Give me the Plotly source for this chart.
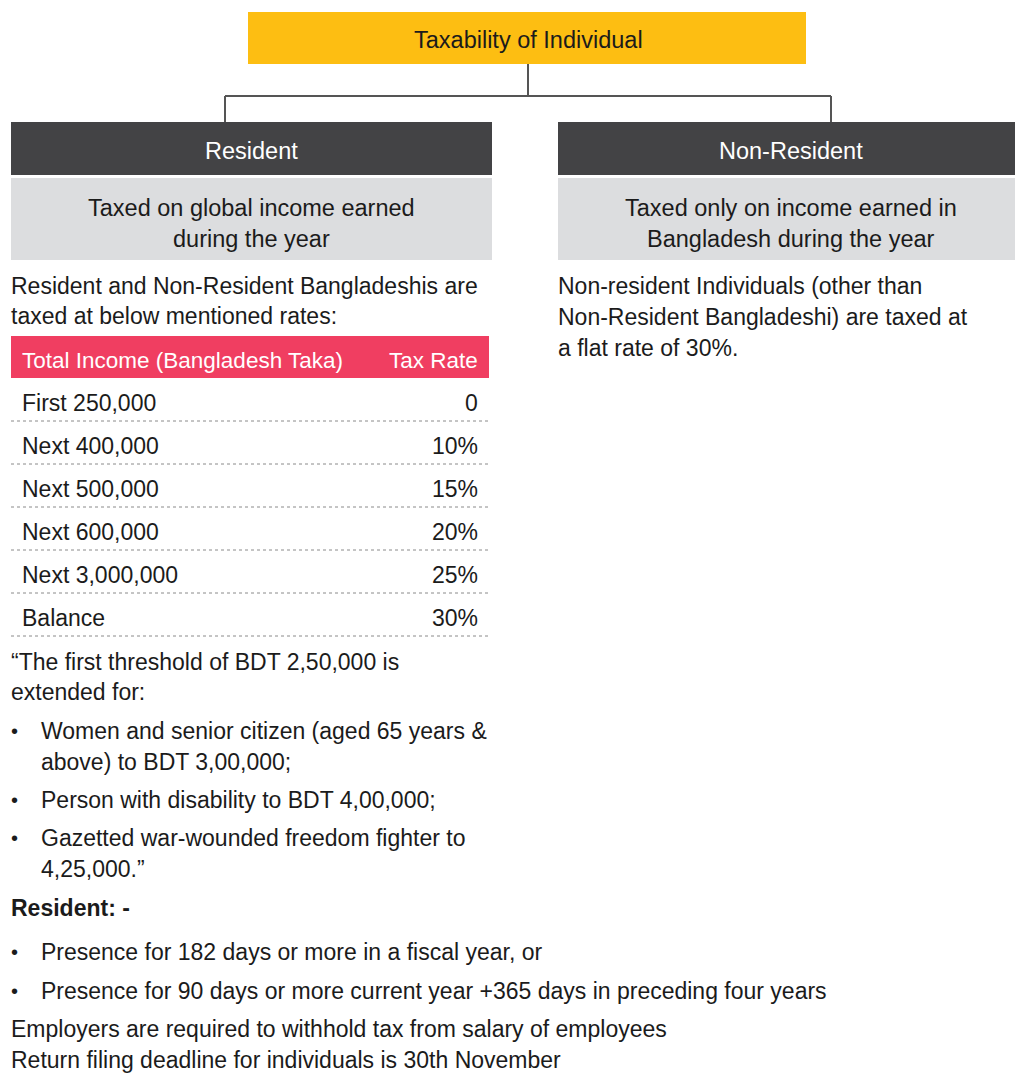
import plotly.graph_objects as go

# ---- content ----
title_text = "Taxability of Individual"
branch_names = ["Resident", "Non-Resident"]
branch_desc = [["Taxed on global income earned", "during the year"],
               ["Taxed only on income earned in", "Bangladesh during the year"]]
resident_intro = ["Resident and Non-Resident Bangladeshis are",
                  "taxed at below mentioned rates:"]
nonres_note = ["Non-resident Individuals (other than",
               "Non-Resident Bangladeshi) are taxed at",
               "a flat rate of 30%."]
table_header = ["Total Income (Bangladesh Taka)", "Tax Rate"]
income_bands = ["First 250,000", "Next 400,000", "Next 500,000",
                "Next 600,000", "Next 3,000,000", "Balance"]
tax_rates = ["0", "10%", "15%", "20%", "25%", "30%"]
threshold_note = ["\u201cThe first threshold of BDT 2,50,000 is", "extended for:"]
threshold_bullets = [["Women and senior citizen (aged 65 years &", "above) to BDT 3,00,000;"],
                     ["Person with disability to BDT 4,00,000;"],
                     ["Gazetted war-wounded freedom fighter to", "4,25,000.\u201d"]]
resident_rule_title = "Resident: -"
resident_rules = ["Presence for 182 days or more in a fiscal year, or",
                  "Presence for 90 days or more current year +365 days in preceding four years"]
footer_lines = ["Employers are required to withhold tax from salary of employees",
                "Return filing deadline for individuals is 30th November"]

W, H = 1023, 1084
OFF = 8  # page body margin
FONT = "Helvetica Neue, Liberation Sans, Arial, sans-serif"
TXT = "#1b1b1b"
FS = 23
BOX_FS = 23.5

fig = go.Figure()
shapes = []
ann = []


def text(x, y, s, anchor="left", color=TXT, size=FS, bold=False):
    if bold:
        s = "<b>" + s + "</b>"
    # annotations carry ~2px of padding
    if anchor == "left":
        x -= 2
    elif anchor == "right":
        x += 2
    ann.append(dict(x=x, y=y, text=s, xref="x", yref="y", showarrow=False,
                    xanchor=anchor, yanchor="middle",
                    font=dict(family=FONT, size=size, color=color)))


def rect(x0, y0, x1, y1, color):
    shapes.append(dict(type="rect", x0=x0, y0=y0, x1=x1, y1=y1, xref="x", yref="y",
                       fillcolor=color, line=dict(width=0), layer="below"))


def line(x0, y0, x1, y1, color="#555555", width=2, dash="solid"):
    shapes.append(dict(type="line", x0=x0, y0=y0, x1=x1, y1=y1, xref="x", yref="y",
                       line=dict(color=color, width=width, dash=dash)))


# top box
rect(248, 12, 806, 64, "#fdbe12")
text(528, 40, title_text, anchor="center", size=BOX_FS)

# connectors
line(528, 64, 528, 96)
line(225, 96, 831, 96)
line(225, 96, 225, 122)
line(831, 96, 831, 122)

# branch boxes
branch_x = [(11, 492), (558, 1030)]
for (x0, x1), name, desc in zip(branch_x, branch_names, branch_desc):
    rect(x0, 122, x1, 175, "#434345")
    cx = (x0 + min(x1, 1023)) / 2
    text(cx, 151, name, anchor="center", color="#ffffff", size=BOX_FS)
    rect(x0, 178, x1, 260, "#dcdddf")
    for i, s in enumerate(desc):
        text(cx, 208 + 31 * i, s, anchor="center", size=BOX_FS)

for i, s in enumerate(resident_intro):
    text(11, 286 + 30 * i, s)
for i, s in enumerate(nonres_note):
    text(558, 286 + 31 * i, s)

# tax table
rect(11, 336, 489, 378, "#f03e61")
text(22, 360, table_header[0], color="#ffffff", size=22.5)
text(478, 360, table_header[1], anchor="right", color="#ffffff", size=22.5)
row_h = 43
for i, (band, rate) in enumerate(zip(income_bands, tax_rates)):
    top = 378 + row_h * i
    text(22, top + 25, band)
    text(478, top + 25, rate, anchor="right")
    line(11, top + row_h, 490, top + row_h, color="#8a8a8a", width=1, dash="dot")

# threshold note
for i, s in enumerate(threshold_note):
    text(11, 662 + 30 * i, s)
y = 731
for bl in threshold_bullets:
    text(11, y, "\u2022", size=20)
    for j, s in enumerate(bl):
        text(41, y + 31 * j, s)
    y += 31 * (len(bl) - 1) + 38

text(11, 908, resident_rule_title, bold=True)
for i, s in enumerate(resident_rules):
    text(11, 952 + 39 * i, "\u2022", size=20)
    text(41, 952 + 39 * i, s)
for i, s in enumerate(footer_lines):
    text(11, 1029 + 31 * i, s)

fig.update_layout(
    width=W, height=H, margin=dict(l=0, r=0, t=0, b=0),
    paper_bgcolor="white", plot_bgcolor="white",
    xaxis=dict(range=[OFF, W + OFF], visible=False, fixedrange=True),
    yaxis=dict(range=[H + OFF, OFF], visible=False, fixedrange=True),
    shapes=shapes, annotations=ann, showlegend=False,
)
fig.write_html("out.html")
